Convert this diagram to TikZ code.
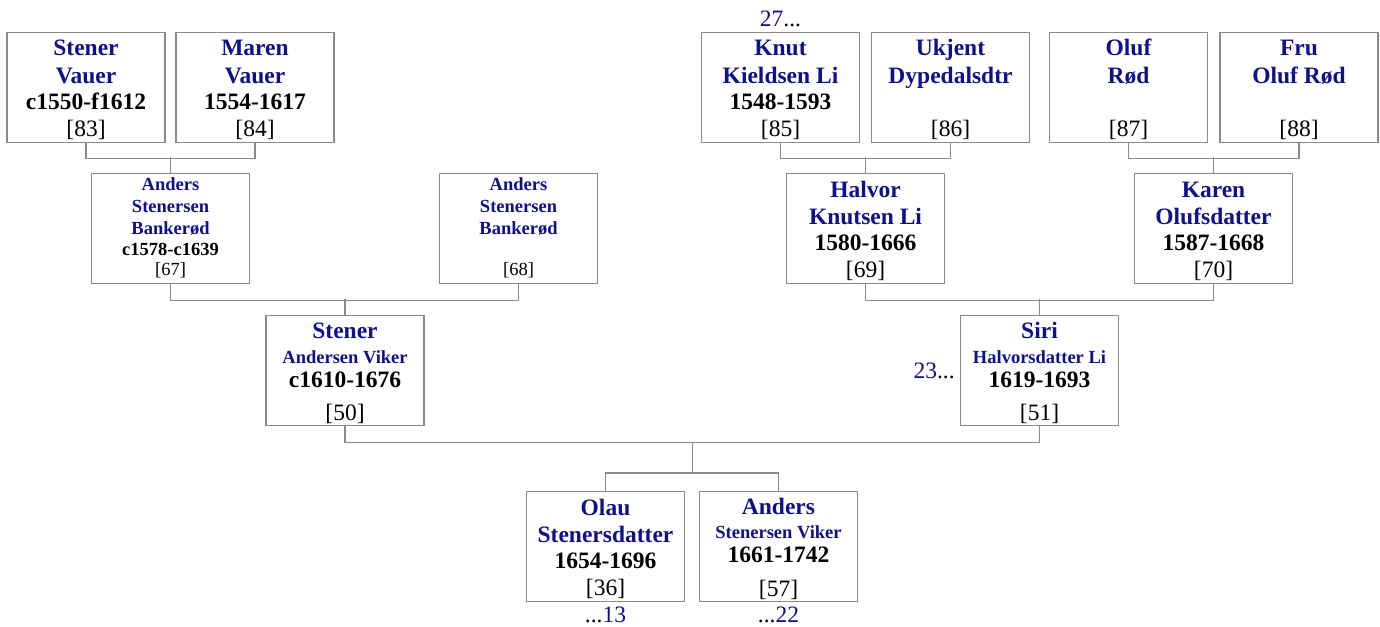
\documentclass[tikz,border=0pt]{standalone}
\usepackage{fontspec}
\setmainfont{Liberation Serif}
\usetikzlibrary{calc}
\definecolor{navyblue}{RGB}{16,16,140}
\definecolor{boxgray}{RGB}{138,138,138}
\newcommand\txt[5]{\node[#4,anchor=base] (#1l#2) at ($(#1.north)+(0,#3)$) {#5};}
\begin{document}
\begin{tikzpicture}[x=1pt,y=-1pt,
  pbox/.style={draw=boxgray,line width=1.2pt,fill=white,minimum width=158pt,minimum height=110pt,inner sep=0pt,anchor=north},
  conn/.style={draw=boxgray,line width=1.2pt},
  bigname/.style={font=\bfseries\fontsize{23.5}{26}\selectfont,text=navyblue,inner sep=0pt},
  smallname/.style={font=\bfseries\fontsize{18.5}{21}\selectfont,text=navyblue,inner sep=0pt},
  bigdate/.style={font=\bfseries\fontsize{23.5}{26}\selectfont,text=black,inner sep=0pt},
  smalldate/.style={font=\bfseries\fontsize{18.5}{21}\selectfont,text=black,inner sep=0pt},
  bigref/.style={font=\fontsize{23.5}{26}\selectfont,text=black,inner sep=0pt},
  smallref/.style={font=\fontsize{18.5}{21}\selectfont,text=black,inner sep=0pt},
  cont/.style={font=\fontsize{23.5}{26}\selectfont,text=black,inner sep=0pt}]
\useasboundingbox (0,0) rectangle (1380,626);
% boxes
\node[pbox] (b83) at (86,32) {};
\node[pbox] (b84) at (255,32) {};
\node[pbox] (b85) at (780.5,32) {};
\node[pbox] (b86) at (950.5,32) {};
\node[pbox] (b87) at (1128.5,32) {};
\node[pbox] (b88) at (1299,32) {};
\node[pbox] (b67) at (170.5,173) {};
\node[pbox] (b68) at (518.5,173) {};
\node[pbox] (b69) at (865.5,173) {};
\node[pbox] (b70) at (1213.5,173) {};
\node[pbox] (b50) at (345,315) {};
\node[pbox] (b51) at (1039.5,315) {};
\node[pbox] (b36) at (605.5,491) {};
\node[pbox] (b57) at (778.5,491) {};
% connectors
\draw[conn] (b83.south) -- ++(0,15) -| (b84.south);
\draw[conn] (b67.north) -- ++(0,-16);
\draw[conn] (b85.south) -- ++(0,15) -| (b86.south);
\draw[conn] (b69.north) -- ++(0,-16);
\draw[conn] (b87.south) -- ++(0,15) -| (b88.south);
\draw[conn] (b70.north) -- ++(0,-16);
\draw[conn] (b67.south) -- ++(0,16) -| (b68.south);
\draw[conn] (b50.north) -- ++(0,-16);
\draw[conn] (b69.south) -- ++(0,16) -| (b70.south);
\draw[conn] (b51.north) -- ++(0,-16);
\draw[conn] (b50.south) -- ++(0,16) -| (b51.south);
\coordinate (j1) at ($(b50.south)!0.5!(b51.south)+(0,16)$);
\draw[conn] (j1) -- ++(0,32);
\draw[conn] (b36.north) -- ++(0,-18) -| (b57.north);
% texts
\txt{b83}{1}{24}{bigname}{Stener}
\txt{b83}{2}{51}{bigname}{Vauer}
\txt{b83}{3}{77.5}{bigdate}{c1550-f1612}
\txt{b83}{4}{104.5}{bigref}{[83]}
\txt{b84}{1}{24}{bigname}{Maren}
\txt{b84}{2}{51}{bigname}{Vauer}
\txt{b84}{3}{77.5}{bigdate}{1554-1617}
\txt{b84}{4}{104.5}{bigref}{[84]}
\txt{b85}{1}{24}{bigname}{Knut}
\txt{b85}{2}{51}{bigname}{Kieldsen Li}
\txt{b85}{3}{77.5}{bigdate}{1548-1593}
\txt{b85}{4}{104.5}{bigref}{[85]}
\txt{b86}{1}{24}{bigname}{Ukjent}
\txt{b86}{2}{51}{bigname}{Dypedalsdtr}
\txt{b86}{4}{104.5}{bigref}{[86]}
\txt{b87}{1}{24}{bigname}{Oluf}
\txt{b87}{2}{51}{bigname}{Rød}
\txt{b87}{4}{104.5}{bigref}{[87]}
\txt{b88}{1}{24}{bigname}{Fru}
\txt{b88}{2}{51}{bigname}{Oluf Rød}
\txt{b88}{4}{104.5}{bigref}{[88]}
\txt{b67}{1}{17.5}{smallname}{Anders}
\txt{b67}{2}{39}{smallname}{Stenersen}
\txt{b67}{3}{61}{smallname}{Bankerød}
\txt{b67}{4}{82}{smalldate}{c1578-c1639}
\txt{b67}{5}{102}{smallref}{[67]}
\txt{b68}{1}{17.5}{smallname}{Anders}
\txt{b68}{2}{39}{smallname}{Stenersen}
\txt{b68}{3}{61}{smallname}{Bankerød}
\txt{b68}{5}{102}{smallref}{[68]}
\txt{b69}{1}{24}{bigname}{Halvor}
\txt{b69}{2}{51}{bigname}{Knutsen Li}
\txt{b69}{3}{77.5}{bigdate}{1580-1666}
\txt{b69}{4}{104.5}{bigref}{[69]}
\txt{b70}{1}{24}{bigname}{Karen}
\txt{b70}{2}{51}{bigname}{Olufsdatter}
\txt{b70}{3}{77.5}{bigdate}{1587-1668}
\txt{b70}{4}{104.5}{bigref}{[70]}
\txt{b50}{1}{23.5}{bigname}{Stener}
\txt{b50}{2}{48}{smallname}{Andersen Viker}
\txt{b50}{3}{72}{bigdate}{c1610-1676}
\txt{b50}{4}{105}{bigref}{[50]}
\txt{b51}{1}{23.5}{bigname}{Siri}
\txt{b51}{2}{48}{smallname}{Halvorsdatter Li}
\txt{b51}{3}{72}{bigdate}{1619-1693}
\txt{b51}{4}{105}{bigref}{[51]}
\txt{b36}{1}{24}{bigname}{Olau}
\txt{b36}{2}{51}{bigname}{Stenersdatter}
\txt{b36}{3}{77.5}{bigdate}{1654-1696}
\txt{b36}{4}{104.5}{bigref}{[36]}
\txt{b57}{1}{23.5}{bigname}{Anders}
\txt{b57}{2}{47}{smallname}{Stenersen Viker}
\txt{b57}{3}{71}{bigdate}{1661-1742}
\txt{b57}{4}{105}{bigref}{[57]}
% continuation marks
\node[cont,anchor=base] (k27) at ($(b85.north)+(0,-5)$) {\textcolor{navyblue}{27}...};
\node[cont,anchor=base east] (k23) at ($(b51.west)+(-5,8)$) {\textcolor{navyblue}{23}...};
\node[cont,anchor=base] (k13) at ($(b36.south)+(0,20.5)$) {...\textcolor{navyblue}{13}};
\node[cont,anchor=base] (k22) at ($(b57.south)+(0,20.5)$) {...\textcolor{navyblue}{22}};
\end{tikzpicture}
\end{document}
